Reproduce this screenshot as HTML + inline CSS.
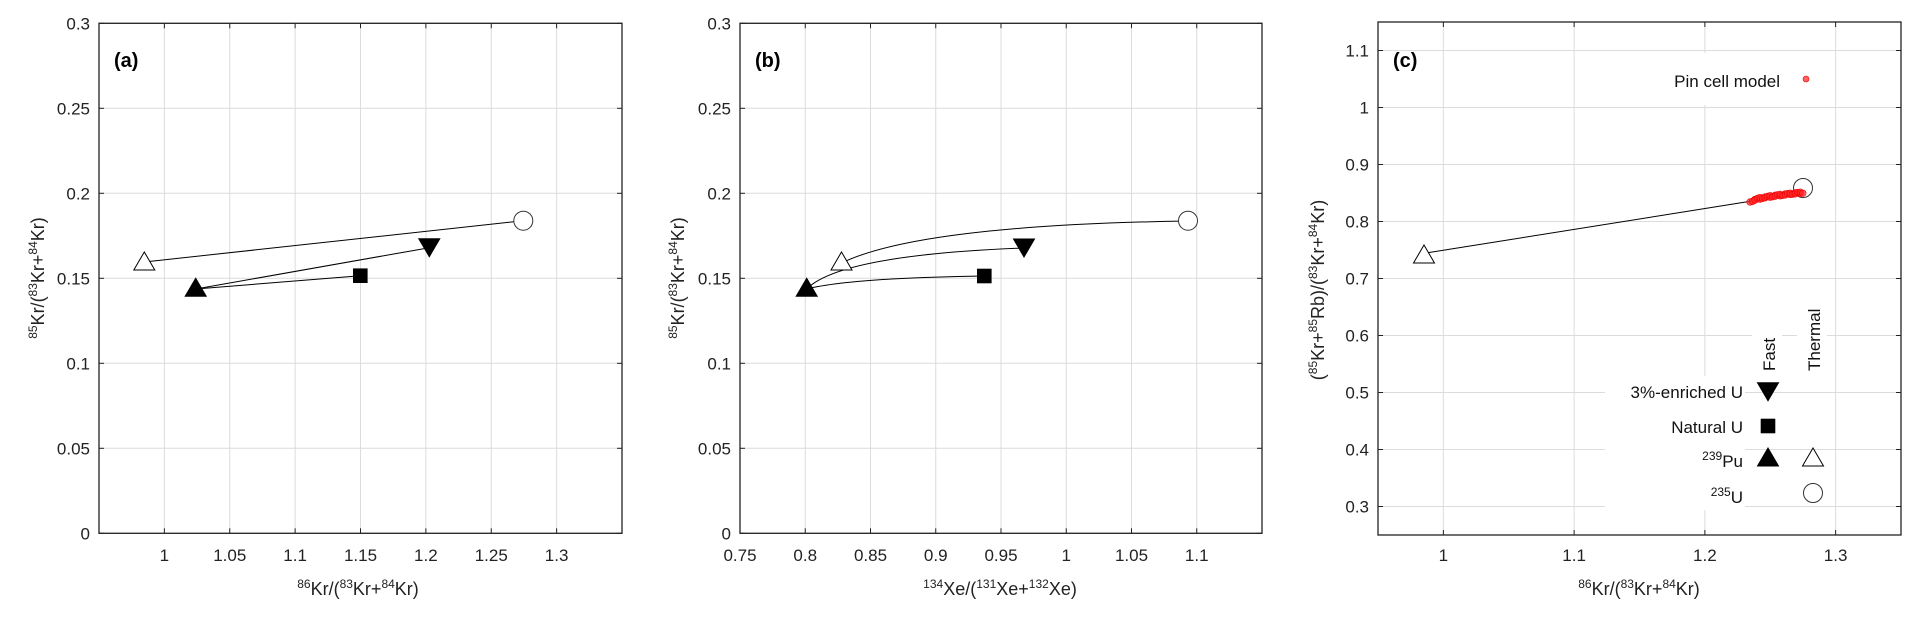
<!DOCTYPE html>
<html><head><meta charset="utf-8"><style>
html,body{margin:0;padding:0;background:#fff}
svg{display:block;font-family:"Liberation Sans",Arial,sans-serif}
</style></head><body>
<svg id="s" width="1915" height="618" viewBox="0 0 1915 618" xmlns="http://www.w3.org/2000/svg"></svg>
<script>
const s=document.getElementById('s');let h='';
function axes(L,R,T,B,x0,x1,xt,y0,y1,yt,fmtx,fmty){
  const X=v=>L+(v-x0)/(x1-x0)*(R-L), Y=v=>B-(v-y0)/(y1-y0)*(B-T);
  for(const v of xt){const x=X(v);h+=`<line x1="${x}" y1="${T}" x2="${x}" y2="${B}" stroke="#dcdcdc" stroke-width="1"/>`;}
  for(const v of yt){const y=Y(v);h+=`<line x1="${L}" y1="${y}" x2="${R}" y2="${y}" stroke="#dcdcdc" stroke-width="1"/>`;}
  h+=`<rect x="${L}" y="${T}" width="${R-L}" height="${B-T}" fill="none" stroke="#222" stroke-width="1.3"/>`;
  for(const v of xt){const x=X(v);h+=`<line x1="${x}" y1="${B}" x2="${x}" y2="${B-5}" stroke="#222"/><line x1="${x}" y1="${T}" x2="${x}" y2="${T+5}" stroke="#222"/><text x="${x}" y="561" font-size="17" text-anchor="middle" fill="#222">${fmtx(v)}</text>`;}
  for(const v of yt){const y=Y(v);h+=`<line x1="${L}" y1="${y}" x2="${L+5}" y2="${y}" stroke="#222"/><line x1="${R}" y1="${y}" x2="${R-5}" y2="${y}" stroke="#222"/><text x="${L-9}" y="${y+6}" font-size="17" text-anchor="end" fill="#222">${fmty(v)}</text>`;}
  return [X,Y];
}
const f=v=>String(+v.toFixed(3));
function tri(x,y,fill,down){const w=10.5,hh=9;return down?`<polygon points="${x-w},${y-hh} ${x+w},${y-hh} ${x},${y+hh}" fill="#000" stroke="#000"/>`:`<polygon points="${x-w},${y+hh} ${x+w},${y+hh} ${x},${y-hh}" fill="${fill}" stroke="#000" stroke-width="1"/>`;}
function sq(x,y){return `<rect x="${x-7.3}" y="${y-7.3}" width="14.6" height="14.6" fill="#000"/>`;}
function circ(x,y){return `<circle cx="${x}" cy="${y}" r="9.5" fill="#fff" stroke="#333" stroke-width="1"/>`;}
const ln=(a,b,c,d)=>`<line x1="${a}" y1="${b}" x2="${c}" y2="${d}" stroke="#000" stroke-width="1"/>`;
const yt=[0,0.05,0.1,0.15,0.2,0.25,0.3];
// panel a
axes(99,622,23.3,533.3,0.95,1.35,[1,1.05,1.1,1.15,1.2,1.25,1.3],0,0.3,yt,f,f);
h+=ln(144.3,262,523.3,220.7)+ln(195.7,289,429.3,247.7)+ln(195.7,289,360.3,275.7);
h+=tri(144.3,261,'#fff')+tri(195.7,287.3,'#000')+sq(360.3,275.7)+tri(429.3,247.7,'#000',true)+circ(523.3,220.7);
h+=`<text x="114" y="67" font-size="20" font-weight="bold">(a)</text>`;
h+=`<text x="358" y="595" font-size="18" text-anchor="middle" fill="#222"><tspan font-size="12" dy="-7">86</tspan><tspan dy="7">Kr/(</tspan><tspan font-size="12" dy="-7">83</tspan><tspan dy="7">Kr+</tspan><tspan font-size="12" dy="-7">84</tspan><tspan dy="7">Kr)</tspan></text>`;
const ylab=(x)=>`<text transform="translate(${x},278) rotate(-90)" font-size="18" text-anchor="middle" fill="#222"><tspan font-size="12" dy="-7">85</tspan><tspan dy="7">Kr/(</tspan><tspan font-size="12" dy="-7">83</tspan><tspan dy="7">Kr+</tspan><tspan font-size="12" dy="-7">84</tspan><tspan dy="7">Kr)</tspan></text>`;
h+=ylab(44);
// panel b
axes(740,1262,23.3,533.3,0.75,1.15,[0.75,0.8,0.85,0.9,0.95,1,1.05,1.1],0,0.3,yt,f,f);
h+=`<path d="M841.5,263 Q920,225 1188,221" fill="none" stroke="#000"/><path d="M806.7,289 Q840,255 1024,248" fill="none" stroke="#000"/><path d="M806.7,289 Q850,278 984.3,276" fill="none" stroke="#000"/>`;
h+=tri(841.5,261,'#fff')+tri(806.7,287.3,'#000')+sq(984.3,276)+tri(1024,248,'#000',true)+circ(1188,220.7);
h+=`<text x="755" y="67" font-size="20" font-weight="bold">(b)</text>`;
h+=`<text x="1000" y="595" font-size="18" text-anchor="middle" fill="#222"><tspan font-size="12" dy="-7">134</tspan><tspan dy="7">Xe/(</tspan><tspan font-size="12" dy="-7">131</tspan><tspan dy="7">Xe+</tspan><tspan font-size="12" dy="-7">132</tspan><tspan dy="7">Xe)</tspan></text>`;
h+=ylab(684);
// panel c
axes(1378,1901,22,535,0.95,1.35,[1,1.1,1.2,1.3],0.25,1.15,[0.3,0.4,0.5,0.6,0.7,0.8,0.9,1,1.1],f,f);
h+=ln(1426,253,1752,201);
h+=circ(1803,188);
for(let i=0;i<32;i++){const t=i/31;const x=1750+t*52+(i%3)*0.8;const y=202-10*Math.sqrt(t)+(i%2)*1.2;h+=`<circle cx="${x}" cy="${y}" r="3.3" fill="rgba(255,40,40,0.75)" stroke="#e00" stroke-width="0.6"/>`;}
h+=tri(1424,254,'#fff');
h+=`<text x="1393" y="67" font-size="20" font-weight="bold">(c)</text>`;
h+=`<rect x="1575" y="53" width="258" height="52" fill="#fff"/><text x="1780" y="87" font-size="17" text-anchor="end" fill="#111">Pin cell model</text><circle cx="1806" cy="79" r="3" fill="rgba(255,60,60,0.8)" stroke="#e00" stroke-width="0.6"/>`;
h+=`<rect x="1600" y="296" width="240" height="220" fill="#fff" opacity="0.0"/>`;
h+=`<rect x="1752" y="328" width="30" height="44" fill="#fff"/><rect x="1797" y="296" width="30" height="76" fill="#fff"/>`;
h+=`<text transform="translate(1775,371) rotate(-90)" font-size="17" fill="#111">Fast</text><text transform="translate(1820,371) rotate(-90)" font-size="17" fill="#111">Thermal</text>`;
h+=`<rect x="1605" y="376" width="140" height="134" fill="#fff"/>`;
h+=`<text x="1743" y="398" font-size="17" text-anchor="end" fill="#111">3%-enriched U</text>`;
h+=`<text x="1743" y="433" font-size="17" text-anchor="end" fill="#111">Natural U</text>`;
h+=`<text x="1743" y="467" font-size="17" text-anchor="end" fill="#111"><tspan font-size="12" dy="-7">239</tspan><tspan dy="7">Pu</tspan></text>`;
h+=`<text x="1743" y="503" font-size="17" text-anchor="end" fill="#111"><tspan font-size="12" dy="-7">235</tspan><tspan dy="7">U</tspan></text>`;
h+=tri(1768,391.7,'#000',true)+sq(1768,426)+tri(1768,457,'#000')+tri(1813,457,'#fff')+circ(1813,493);
h+=`<text x="1639" y="595" font-size="18" text-anchor="middle" fill="#222"><tspan font-size="12" dy="-7">86</tspan><tspan dy="7">Kr/(</tspan><tspan font-size="12" dy="-7">83</tspan><tspan dy="7">Kr+</tspan><tspan font-size="12" dy="-7">84</tspan><tspan dy="7">Kr)</tspan></text>`;
h+=`<text transform="translate(1324,290) rotate(-90)" font-size="18" text-anchor="middle" fill="#222"><tspan>(</tspan><tspan font-size="12" dy="-7">85</tspan><tspan dy="7">Kr+</tspan><tspan font-size="12" dy="-7">85</tspan><tspan dy="7">Rb)/(</tspan><tspan font-size="12" dy="-7">83</tspan><tspan dy="7">Kr+</tspan><tspan font-size="12" dy="-7">84</tspan><tspan dy="7">Kr)</tspan></text>`;
s.innerHTML=h;
</script>
</body></html>
